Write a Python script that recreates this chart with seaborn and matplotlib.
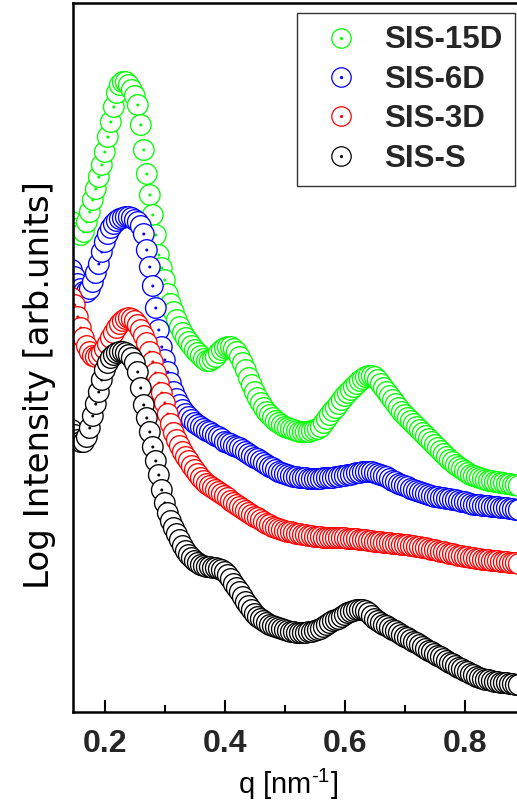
import numpy as np
import pandas as pd
import seaborn as sns
import matplotlib.pyplot as plt
from matplotlib.lines import Line2D
from matplotlib.legend_handler import HandlerTuple
from matplotlib.ticker import MultipleLocator

# q grid of the SAXS curves: 0.145 ... 0.890 nm^-1, step 0.005
Q_START = 0.145
Q_STEP = 0.005

# log intensity, arbitrary units (curves shifted vertically)
sis_15d = [
    490, 483, 479, 477, 480, 490, 500, 512, 523, 535,
    547, 560, 575, 590, 605, 619, 627, 630, 630, 627,
    622, 616, 607, 587, 562, 538, 517, 497, 477, 457,
    444, 432, 418, 408, 400, 392, 385, 379, 374, 370,
    366, 362, 359, 356, 353, 351, 351, 353, 355, 359,
    362, 364, 365, 365, 363, 360, 355, 349, 342, 334,
    327, 320, 314, 309, 304, 300, 297, 294, 291, 289,
    287, 285, 284, 283, 282, 281, 280, 280, 280, 280,
    281, 282, 283, 285, 289, 293, 297, 301, 304, 308,
    312, 316, 319, 322, 325, 328, 331, 333, 335, 336,
    336, 335, 332, 328, 324, 320, 316, 312, 308, 304,
    300, 297, 294, 291, 288, 285, 282, 279, 276, 273,
    270, 267, 264, 261, 258, 255, 252, 250, 247, 245,
    243, 241, 239, 237, 236, 235, 234, 233, 232, 231,
    231, 230, 230, 229, 229, 228, 228, 227, 227, 226,
]
sis_6d = [
    442, 435, 428, 423, 420, 420, 423, 430, 439, 448,
    460, 470, 478, 484, 488, 491, 493, 494, 495, 495,
    494, 492, 490, 486, 478, 462, 445, 426, 404, 382,
    365, 352, 340, 329, 320, 313, 307, 302, 298, 295,
    292, 289, 287, 285, 283, 281, 280, 278, 276, 275,
    273, 270, 269, 268, 266, 265, 264, 262, 260, 258,
    256, 254, 253, 251, 249, 247, 245, 244, 242, 240,
    239, 238, 237, 236, 235, 235, 234, 234, 234, 233,
    233, 233, 233, 233, 234, 234, 234, 234, 235, 235,
    236, 236, 237, 237, 238, 239, 239, 240, 240, 240,
    240, 239, 238, 237, 236, 235, 233, 231, 230, 228,
    227, 226, 225, 223, 222, 221, 220, 219, 218, 217,
    216, 215, 215, 214, 214, 213, 213, 212, 212, 211,
    210, 210, 209, 208, 207, 207, 207, 206, 206, 206,
    205, 205, 205, 204, 204, 204, 203, 203, 202, 202,
]
sis_3d = [
    414, 407, 395, 384, 374, 366, 360, 356, 355, 356,
    359, 363, 368, 374, 379, 384, 388, 391, 393, 394,
    393, 391, 387, 382, 376, 369, 360, 350, 339, 329,
    319, 309, 298, 288, 279, 272, 266, 260, 255, 251,
    246, 242, 238, 234, 231, 228, 226, 224, 222, 220,
    218, 216, 214, 211, 209, 207, 205, 203, 201, 199,
    197, 195, 194, 192, 190, 188, 187, 185, 184, 183,
    182, 181, 180, 180, 179, 178, 178, 177, 177, 176,
    176, 175, 175, 175, 174, 174, 174, 174, 174, 174,
    174, 174, 173, 173, 173, 173, 172, 172, 172, 171,
    171, 170, 170, 170, 169, 169, 169, 168, 168, 168,
    167, 167, 167, 166, 166, 165, 165, 164, 164, 163,
    162, 162, 161, 160, 160, 159, 158, 158, 157, 156,
    156, 155, 155, 154, 154, 153, 153, 152, 152, 152,
    151, 151, 151, 150, 150, 150, 149, 149, 149, 148,
]
sis_s = [
    282, 277, 272, 270, 270, 275, 284, 296, 308, 320,
    332, 342, 349, 354, 357, 359, 360, 360, 359, 357,
    354, 349, 340, 324, 307, 294, 280, 265, 251, 237,
    222, 209, 199, 191, 184, 178, 172, 166, 161, 157,
    154, 151, 149, 147, 146, 145, 145, 144, 144, 143,
    142, 140, 137, 133, 128, 124, 120, 115, 110, 106,
    102, 98, 95, 93, 91, 89, 87, 86, 85, 84,
    83, 82, 81, 80, 80, 79, 79, 79, 79, 80,
    80, 81, 82, 83, 85, 87, 89, 91, 92, 93,
    95, 97, 99, 100, 101, 102, 102, 102, 101, 99,
    96, 93, 91, 89, 87, 86, 84, 82, 81, 79,
    77, 75, 74, 72, 70, 69, 67, 65, 63, 61,
    60, 58, 56, 55, 53, 51, 49, 48, 46, 44,
    43, 41, 40, 38, 37, 35, 34, 33, 32, 32,
    31, 30, 30, 29, 29, 29, 28, 28, 27, 27,
]

labels = ['SIS-15D', 'SIS-6D', 'SIS-3D', 'SIS-S']
series = [sis_15d, sis_6d, sis_3d, sis_s]
colors = ['#00ff00', '#0000ff', '#ff0000', '#000000']

sns.set_theme(style='white')
plt.rcParams['font.family'] = ['Liberation Sans', 'DejaVu Sans']
plt.rcParams['mathtext.fontset'] = 'custom'
plt.rcParams['mathtext.rm'] = 'Liberation Sans'
plt.rcParams['mathtext.it'] = 'Liberation Sans:italic'
plt.rcParams['mathtext.default'] = 'regular'

W, H = 517, 809
fig = plt.figure(figsize=(W / 100, H / 100), dpi=100)
fig.patch.set_facecolor('white')
ax = fig.add_axes([73 / W, 97 / H, 1 - 73 / W, 709 / H])

RING = 220
for values, name, color in zip(series, labels, colors):
    n = len(values)
    q = Q_START + Q_STEP * np.arange(n)
    # each point: white-filled ring followed by its tiny centre dot
    df = pd.DataFrame({
        'q': np.repeat(q, 2),
        'I': np.repeat(values, 2),
        'kind': ['ring', 'dot'] * n,
    })
    sns.scatterplot(data=df, x='q', y='I', hue='kind', size='kind',
                    palette={'ring': 'white', 'dot': color},
                    sizes={'ring': RING, 'dot': 1.5},
                    edgecolor=color, linewidth=0.95, legend=False, ax=ax)

ax.set_xlim(0.147, 0.887)
ax.set_ylim(0, 709)
ax.set_yticks([])
ax.xaxis.set_major_locator(MultipleLocator(0.2))
ax.xaxis.set_minor_locator(MultipleLocator(0.1))
ax.tick_params(axis='x', which='major', direction='in', length=8.5, width=1.5,
               color='black', labelsize=23, pad=12, bottom=True, top=False)
ax.tick_params(axis='x', which='minor', direction='in', length=5, width=1.5,
               color='black', bottom=True, top=False)
ax.set_xticks([0.2, 0.4, 0.6, 0.8])
ax.set_xticklabels(['0.2', '0.4', '0.6', '0.8'], fontweight='bold')
ax.set_xlim(0.147, 0.887)

for side in ['left', 'bottom', 'top']:
    ax.spines[side].set_color('black')
    ax.spines[side].set_linewidth(1.8)
ax.spines['right'].set_visible(False)

ax.set_xlabel(r'q [nm$^{\text{-}1}$]', fontsize=21, color='black')
ax.xaxis.set_label_coords(288 / W, (H - 767) / H, transform=fig.transFigure)
ax.set_ylabel('Log Intensity [arb.units]', fontsize=24.5, color='black',
              family=['DejaVu Sans'])
ax.yaxis.set_label_coords(56 / W, (H - 385) / H, transform=fig.transFigure)

handles = []
for color in colors:
    ring = Line2D([], [], ls='none', marker='o', markersize=14,
                  markerfacecolor='white', markeredgecolor=color, markeredgewidth=0.9)
    dot = Line2D([], [], ls='none', marker='o', markersize=1.3,
                 markerfacecolor=color, markeredgecolor=color)
    handles.append((ring, dot))

leg = ax.legend(handles, labels, handler_map={tuple: HandlerTuple(ndivide=1, pad=0)},
                loc='upper left', bbox_to_anchor=(297 / W, 1 - 13 / H),
                bbox_transform=fig.transFigure, borderaxespad=0,
                prop={'weight': 'bold', 'size': 22.5}, frameon=True,
                fancybox=False, edgecolor='#333333', framealpha=1,
                borderpad=0.4, labelspacing=0.3, handlelength=2.0,
                handletextpad=0.4)
leg.get_frame().set_linewidth(1.0)

fig.savefig('out.png', dpi=100, facecolor='white')
